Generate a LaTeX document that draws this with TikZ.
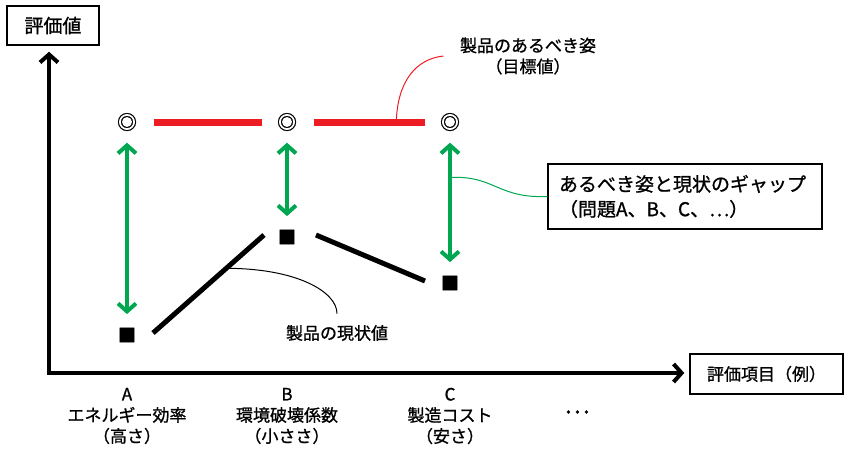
\documentclass[tikz,border=0pt]{standalone}
\usepackage{fontspec}
\usepackage{tikz}
\usetikzlibrary{arrows.meta, calc}
\newfontfamily\jpfont[FakeBold=1]{Noto Sans CJK JP}
\definecolor{gapgreen}{RGB}{0,166,80}
\definecolor{goalred}{RGB}{237,28,36}

\begin{document}
\begin{tikzpicture}[
    % GLOBAL CFG
    x=1pt, y=-1pt,
    font=\jpfont\fontsize{17pt}{21pt}\selectfont,
    >={Straight Barb[length=8pt,width=18pt]},
    % Styles
    titlebox/.style={% For the names of the axes
        rectangle,
        draw,
        line width=1.5pt,
        },
    gapbox/.style={% For the box on the right
        rectangle,
        draw,
        line width=1.5pt,
        align=left,
        text width=252pt,
        inner xsep=11pt,
        minimum height=65pt,
        font=\jpfont\fontsize{19pt}{25pt}\selectfont,
        },
    goalmark/.style={% For the target values
        inner sep=0pt,
        font=\jpfont\fontsize{20pt}{20pt}\selectfont,
        },
    curmark/.style={% For the present values
        inner sep=0pt,
        font=\jpfont\fontsize{18pt}{18pt}\selectfont,
        },
    itemlbl/.style={% For the items under the axis
        align=center,
        },
    AxisLine/.style={% Thick black axes
        line width=4pt,
        <->,
        },
    GoalLine/.style={% Red bars between targets
        goalred,
        line width=7pt,
        shorten <=16.5pt,
        shorten >=14.5pt,
        },
    CurLine/.style={% Black bars between present values
        line width=5pt,
        },
    GapArrow/.style={% Green arrows for the gaps
        gapgreen,
        line width=4pt,
        <->,
        shorten <=11.5pt,
        shorten >=13.5pt,
        },
    Callout/.style={% Thin lines to the labels
        line width=1pt,
        },
    ]

    \useasboundingbox (0,0) rectangle (856,450);

    % Draw the axes and their names
    \node [titlebox, minimum width=92pt, minimum height=39pt,
        font=\jpfont\fontsize{19pt}{21pt}\selectfont] (ybox) at (53,25.5) {評価値};
    \node [titlebox, minimum width=153pt, minimum height=40pt] (xbox) at (766.5,374) {評価項目（例）};
    \coordinate (origin) at (49,373);
    \draw [AxisLine] ($(ybox.south -| origin)+(0,6)$) -- (origin) -- ($(xbox.west |- origin)+(-5,0)$);

    % Draw targets named goal# and present values named cur#
    \node [goalmark] (goal1) at (127,122) {◎};
    \node [goalmark] (goal2) at (287,122) {◎};
    \node [goalmark] (goal3) at (450,122) {◎};
    \node [curmark] (cur1) at (127,335) {■};
    \node [curmark] (cur2) at (287,237) {■};
    \node [curmark] (cur3) at (450,283) {■};

    % Red bars
    \draw [GoalLine] (goal1) -- (goal2);
    \draw [GoalLine] (goal2) -- (goal3) coordinate[pos=0.695] (redPt);

    % Black bars
    \draw [CurLine] ([xshift=26pt,yshift=2pt]cur1.center) -- ([xshift=-23pt,yshift=2pt]cur2.center) coordinate[pos=0.66] (curPt);
    \draw [CurLine] ([xshift=29pt,yshift=2pt]cur2.center) -- ([xshift=-25pt,yshift=2pt]cur3.center);

    % Gaps
    \draw [GapArrow] (goal1) -- (cur1);
    \draw [GapArrow] (goal2) -- (cur2);
    \draw [GapArrow] (goal3) -- (cur3) coordinate[pos=0.32] (gapPt);

    % Labels
    \node [align=center] (goalLbl) at (528,56) {製品のあるべき姿\\（目標値）};
    \node (curLbl) at (337,333) {製品の現状値};
    \node [gapbox] (gapLbl) at (685,196.5) {あるべき姿と現状のギャップ\\（問題A、B、C、…）};

    \draw [Callout, goalred] (redPt) .. controls +(1,-40) and +(-28,3) .. ([xshift=-13pt]goalLbl.west);
    \draw [Callout] (curPt) .. controls +(70,0) and +(0,-22) .. ([yshift=8pt]curLbl.north);
    \draw [Callout, gapgreen] (gapPt) .. controls +(45,-2) and +(-50,2) .. (gapLbl.west);

    % Items under the axis
    \coordinate (itemRow) at (0,416);
    \node [itemlbl] (itemA) at (goal1 |- itemRow) {A\\エネルギー効率\\（高さ）};
    \node [itemlbl] (itemB) at (goal2 |- itemRow) {B\\環境破壊係数\\（小ささ）};
    \node [itemlbl] (itemC) at (goal3 |- itemRow) {C\\製造コスト\\（安さ）};
    \node [font=\jpfont\fontsize{24pt}{24pt}\selectfont] (itemMore) at (577,412) {…};

\end{tikzpicture}
\end{document}
